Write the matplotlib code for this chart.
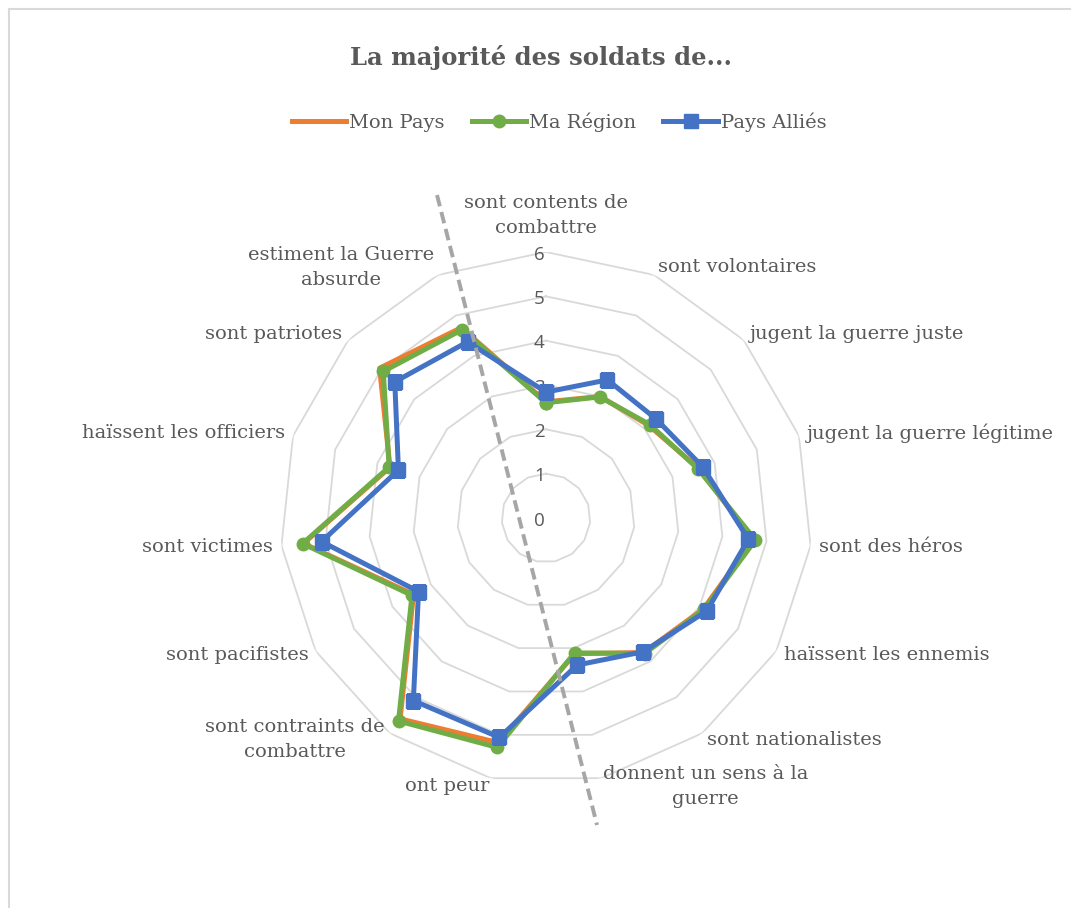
import matplotlib.pyplot as plt
import numpy as np
from matplotlib.lines import Line2D

categories = ['sont contents de\ncombattre', 'sont volontaires', 'jugent la guerre juste',
              'jugent la guerre légitime', 'sont des héros', 'haïssent les ennemis',
              'sont nationalistes', 'donnent un sens à la\nguerre', 'ont peur',
              'sont contraints de\ncombattre', 'sont pacifistes', 'sont victimes',
              'haïssent les officiers', 'sont patriotes', 'estiment la Guerre\nabsurde']
mon_pays = [2.62, 3.0, 3.12, 3.62, 4.7, 4.1, 3.75, 3.13, 5.18, 5.6, 3.45, 5.5, 3.7, 5.05, 4.7]
ma_region = [2.6, 2.99, 3.15, 3.6, 4.75, 4.12, 3.78, 3.11, 5.29, 5.66, 3.49, 5.52, 3.72, 4.94, 4.65]
pays_allies = [2.84, 3.41, 3.34, 3.72, 4.59, 4.19, 3.73, 3.39, 5.06, 5.09, 3.32, 5.09, 3.5, 4.59, 4.35]
r_ticks = [0, 1, 2, 3, 4, 5, 6]
title = 'La majorité des soldats de...'

W, H = 1071, 908
GRAY_TXT = '#595959'
GRID = '#d9d9d9'

fig = plt.figure(figsize=(W / 100, H / 100), dpi=100)

# chart frame (only top and left edges visible in the crop)
fig.add_artist(Line2D([9 / W, 1], [1 - 9 / H, 1 - 9 / H], color=GRID, lw=1.5))
fig.add_artist(Line2D([9 / W, 9 / W], [0, 1 - 9 / H], color=GRID, lw=1.5))

cx, cy, R = 546, 518, 266
ax = fig.add_axes([(cx - R) / W, (H - cy - R) / H, 2 * R / W, 2 * R / H], projection='polar')
ax.set_theta_zero_location('N')
ax.set_theta_direction(-1)
ax.set_ylim(0, 6)
ax.set_xticks([])
ax.set_yticks([])
ax.grid(False)
ax.spines['polar'].set_visible(False)
ax.patch.set_visible(False)

n = len(categories)
theta = np.arange(n) * 2 * np.pi / n
theta_c = np.append(theta, theta[0])

for r in r_ticks[1:]:
    ax.plot(theta_c, [r] * (n + 1), color=GRID, lw=1.3, zorder=1)

for r in r_ticks:
    ax.annotate(str(r), (0, r), xytext=(-1, -2), textcoords='offset points',
                ha='right', va='center', fontsize=13.5, color=GRAY_TXT,
                family='Open Sans', annotation_clip=False, zorder=2)


def closed(v):
    return list(v) + [v[0]]


ax.plot(theta_c, closed(mon_pays), color='#ED7D31', lw=3.6, zorder=3,
        solid_joinstyle='round', label='Mon Pays')
ax.plot(theta_c, closed(ma_region), color='#70AD47', lw=3.6, marker='o', ms=9,
        zorder=4, solid_joinstyle='round', label='Ma Région')
ax.plot(theta_c, closed(pays_allies), color='#4472C4', lw=3.6, marker='s', ms=10,
        zorder=5, solid_joinstyle='round', label='Pays Alliés')

for t, lab in zip(theta, categories):
    s, c = np.sin(t), np.cos(t)
    if s > 0.05:
        ha = 'left'
    elif s < -0.05:
        ha = 'right'
    else:
        ha = 'center'
    off = 6
    if abs(s) < 0.05 and c > 0:
        va, off = 'bottom', 11
    else:
        va = 'center'
    ax.annotate(lab, (t, 6), xytext=(off * s, off * c), textcoords='offset points',
                ha=ha, va=va, multialignment='center', fontsize=14,
                color=GRAY_TXT, family='DejaVu Serif', annotation_clip=False,
                linespacing=1.5)

fig.text(541 / W, 1 - 57 / H, title, ha='center', va='center', fontsize=17.5,
         fontweight='bold', color=GRAY_TXT, family='DejaVu Serif')

leg = fig.legend(loc='center', bbox_to_anchor=(559 / W, 1 - 122 / H), ncol=3,
                 frameon=False, handlelength=2.8, columnspacing=1.4, handletextpad=0.15,
                 prop={'family': 'DejaVu Serif', 'size': 14})
for txt in leg.get_texts():
    txt.set_color(GRAY_TXT)

# dashed annotation line
fig.add_artist(Line2D([437 / W, 597 / W], [1 - 195 / H, 1 - 825 / H], color='#a6a6a6',
                      lw=2.8, ls=(0, (3, 1.5))))

plt.savefig('out.png', dpi=100)
